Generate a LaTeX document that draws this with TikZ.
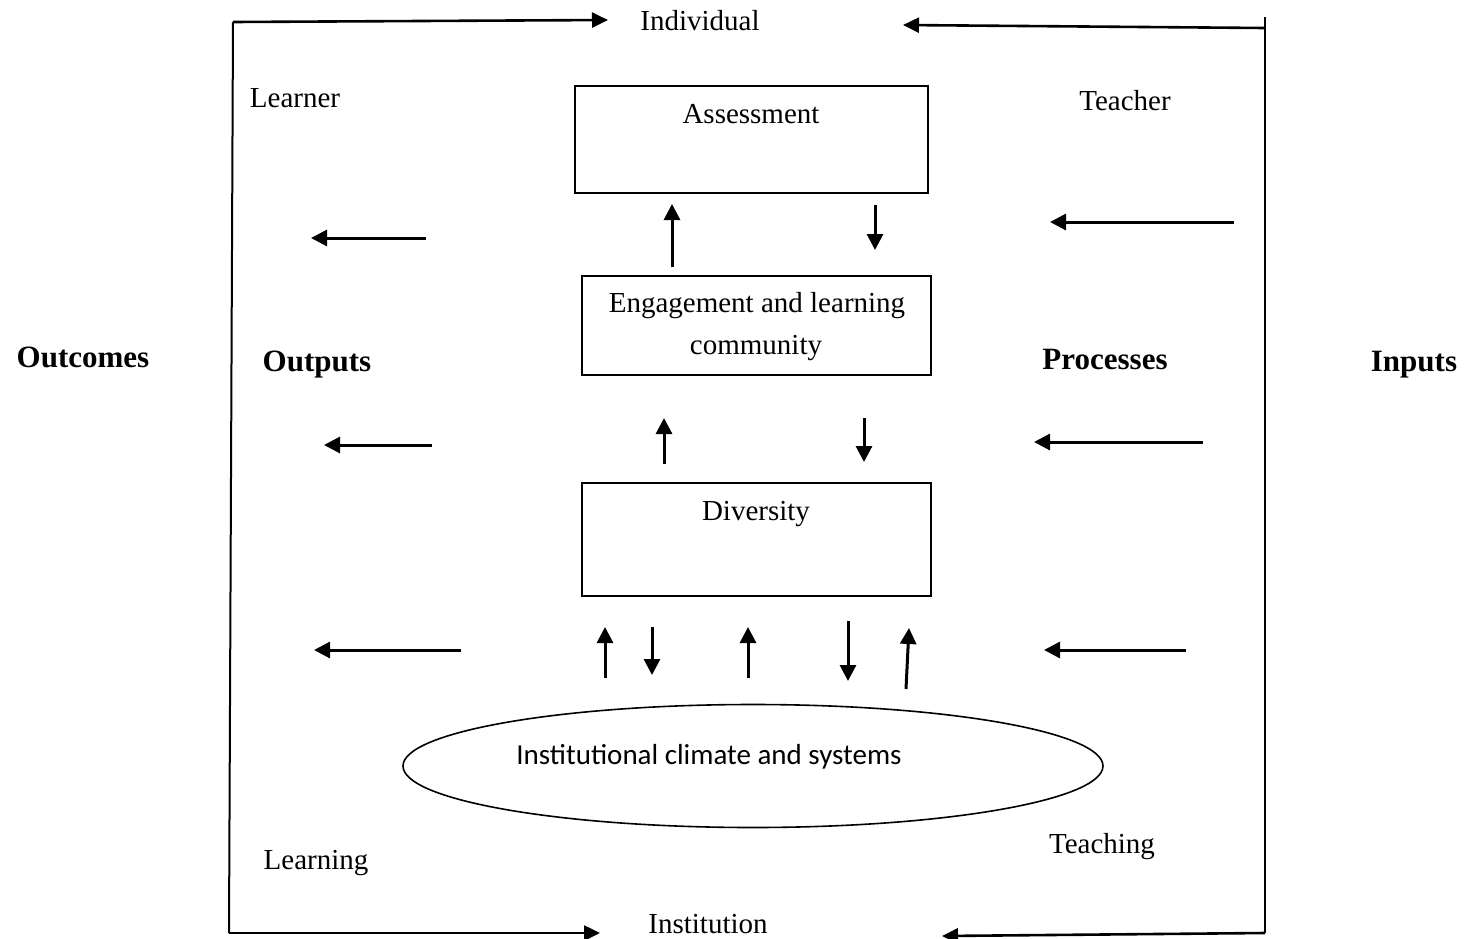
\documentclass[tikz,border=0pt]{standalone}
\usepackage{fontspec}
\setmainfont{Liberation Serif}
\newfontfamily\calib{Carlito}
\usetikzlibrary{arrows.meta,shapes.geometric}
\begin{document}
\begin{tikzpicture}[x=1pt,y=-1pt,
  lbl/.style={anchor=base,inner sep=0pt,font=\fontsize{29}{34}\selectfont},
  blbl/.style={anchor=base,inner sep=0pt,font=\fontsize{31}{36}\selectfont\bfseries},
  boxnode/.style={draw,line width=2pt,inner sep=0pt},
  frame/.style={line width=2pt},
  arr/.style={line width=3pt,-{Triangle[length=16pt,width=16pt]}},
  farr/.style={line width=2.6pt,-{Triangle[length=16pt,width=15pt]}}]
\useasboundingbox (0,0) rectangle (1468,938);
% boxes
\node[boxnode,minimum width=353pt,minimum height=107pt] (assess) at (751.5,139.5) {};
\node[boxnode,minimum width=349pt,minimum height=99pt] (engage) at (756.5,325.5) {};
\node[boxnode,minimum width=349pt,minimum height=113pt] (divers) at (756.5,539.5) {};
\node[draw,ellipse,line width=1.6pt,minimum width=700pt,minimum height=123pt,inner sep=0pt] (inst) at (753,766) {};
% box texts
\node[lbl] (tassess) at (751,123) {Assessment};
\node[lbl] (tengage1) at (757,312) {Engagement and learning};
\node[lbl] (tengage2) at (756,354) {community};
\node[lbl] (tdivers) at (756,520) {Diversity};
\node[anchor=base,inner sep=0pt,font=\calib\fontsize{29}{34}\selectfont] (tinst) at (709,764) {Institutional climate and systems};
% corner labels
\node[lbl] (individual) at (700,30) {Individual};
\node[lbl] (institution) at (708,933) {Institution};
\node[lbl] (learner) at (295,107) {Learner};
\node[lbl] (teacher) at (1125,110) {Teacher};
\node[lbl] (learning) at (316,869) {Learning};
\node[lbl] (teaching) at (1102,853) {Teaching};
% bold labels
\node[blbl] (outcomes) at (83,367) {Outcomes};
\node[blbl] (outputs) at (317,371) {Outputs};
\node[blbl] (processes) at (1105,369) {Processes};
\node[blbl] (inputs) at (1414,371) {Inputs};
% frame coordinates
\coordinate (ltop) at (233,22);
\coordinate (lbot) at (229,933);
\coordinate (ltip) at (608,20);
\coordinate (btip) at (600,933);
\coordinate (rtopend) at (1265,17);
\coordinate (rtop) at (1265,28);
\coordinate (rbot) at (1265,933);
\coordinate (rtip) at (903,25);
\coordinate (rbtip) at (942,936);
\draw[frame] (ltop) -- (lbot);
\draw[farr] (ltop) -- (ltip);
\draw[farr] (lbot) -- (btip);
\draw[frame] (rtopend) -- (rbot);
\draw[farr] (rtop) -- (rtip);
\draw[farr] (rbot) -- (rbtip);
% left horizontal arrows
\coordinate (l1s) at (426,238); \coordinate (l1e) at (311,238);
\coordinate (l2s) at (432,445); \coordinate (l2e) at (324,445);
\coordinate (l3s) at (461,650); \coordinate (l3e) at (314,650);
\draw[arr] (l1s) -- (l1e);
\draw[arr] (l2s) -- (l2e);
\draw[arr] (l3s) -- (l3e);
% right horizontal arrows
\coordinate (r1s) at (1234,222); \coordinate (r1e) at (1050,222);
\coordinate (r2s) at (1203,442); \coordinate (r2e) at (1034,442);
\coordinate (r3s) at (1186,650); \coordinate (r3e) at (1044,650);
\draw[arr] (r1s) -- (r1e);
\draw[arr] (r2s) -- (r2e);
\draw[arr] (r3s) -- (r3e);
% vertical arrows between engagement and assessment
\draw[arr] (672,267) -- (672,204);
\draw[arr] (875,205) -- (875,250);
% between diversity and engagement
\draw[arr] (664,464) -- (664,418);
\draw[arr] (864,418) -- (864,462);
% between institution and diversity
\draw[arr] (605,678) -- (605,627);
\draw[arr] (652,627) -- (652,675);
\draw[arr] (748,678) -- (748,627);
\draw[arr] (848,621) -- (848,681);
\draw[arr] (906,689) -- (909,628);
\end{tikzpicture}
\end{document}
